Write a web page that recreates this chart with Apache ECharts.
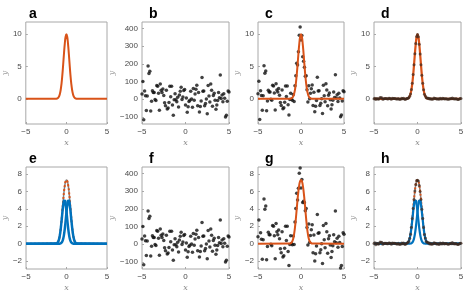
<!DOCTYPE html>
<html><head><meta charset="utf-8">
<script src="https://cdn.jsdelivr.net/npm/echarts@6/dist/echarts.min.js"></script>
<style>html,body{margin:0;padding:0;background:#fff}#c{width:469px;height:300px}</style>
</head><body><div id="c"></div>
<script>
// ---------- data ----------
const xs = [-5,-4.9,-4.8,-4.7,-4.6,-4.5,-4.4,-4.3,-4.2,-4.1,-4,-3.9,-3.8,-3.7,-3.6,-3.5,-3.4,-3.3,-3.2,-3.1,-3,-2.9,-2.8,-2.7,-2.6,-2.5,-2.4,-2.3,-2.2,-2.1,-2,-1.9,-1.8,-1.7,-1.6,-1.5,-1.4,-1.3,-1.2,-1.1,-1,-0.9,-0.8,-0.7,-0.6,-0.5,-0.4,-0.3,-0.2,-0.1,0,0.1,0.2,0.3,0.4,0.5,0.6,0.7,0.8,0.9,1,1.1,1.2,1.3,1.4,1.5,1.6,1.7,1.8,1.9,2,2.1,2.2,2.3,2.4,2.5,2.6,2.7,2.8,2.9,3,3.1,3.2,3.3,3.4,3.5,3.6,3.7,3.8,3.9,4,4.1,4.2,4.3,4.4,4.5,4.6,4.7,4.8,4.9,5];
// panel b / f : pure noise
const noiseY = [29,100,-117,46,19,-65,17,188,145,158,
 -67,-12,48,38,38,-2,-8,77,73,33,
 -63,85,50,38,58,21,-21,-38,50,-56,
 -50,-19,73,13,73,-33,-92,-4,31,-4,
 -15,10,-44,23,44,67,-2,12,49,55,
 -33,7,-74,-43,-14,-7,44,0,-46,60,
 -6,29,56,79,-38,37,-73,-42,-10,123,
 44,46,-38,-25,0,-83,77,17,-17,85,
 50,-40,21,33,-6,-58,-33,-8,38,8,
 137,4,23,-15,31,5,-102,-92,-12,46,40];
// panel c : noisy single peak
const cY = [0.79,2.73,-3.20,1.26,0.52,-1.78,0.46,5.14,3.96,4.32,
 -1.83,-0.33,1.31,1.04,1.04,-0.05,-0.22,2.10,1.99,0.90,
 -1.72,2.32,1.37,1.04,1.58,0.57,-0.57,-1.04,1.37,-1.53,
 -1.37,-0.52,1.99,0.36,1.99,-0.90,-2.51,-0.11,
 0.88,-0.03,-0.23,0.66,-0.43,2.04,3.57,5.51,5.22,7.31,9.86,11.11,
 9.10,9.80,6.50,5.81,4.89,3.49,3.57,1.41,-0.49,2.03,0.02,0.87,1.56,
 2.16,-1.04,1.01,-1.99,-1.15,-0.27,3.36,
 1.20,1.26,-1.04,-0.68,0,-2.27,2.10,0.46,-0.46,2.32,
 1.37,-1.09,0.57,0.90,-0.16,-1.58,-0.90,-0.22,1.04,0.22,
 3.74,0.11,0.63,-0.41,0.85,0.14,-2.79,-2.51,-0.33,1.26,1.09];
// panel d : denoised single peak
const dY = [0.03,0.10,-0.12,0.05,0.02,-0.07,0.02,0.19,0.15,0.16,
 -0.07,-0.01,0.05,0.04,0.04,0,-0.01,0.08,0.07,0.03,
 -0.06,0.09,0.05,0.04,0.06,0.02,-0.02,-0.04,0.05,-0.06,
 -0.05,-0.02,0.07,0.01,0.07,-0.03,-0.09,0,
 0.06,0.08,0.16,0.40,0.73,1.43,2.41,3.75,5.27,6.99,8.57,9.67,
 9.97,9.62,8.45,6.94,5.26,3.67,2.41,1.41,0.72,0.45,0.17,0.11,0.09,
 0.08,-0.04,0.04,-0.07,-0.04,-0.01,0.12,
 0.04,0.05,-0.04,-0.03,0,-0.08,0.08,0.02,-0.02,0.09,
 0.05,-0.04,0.02,0.03,-0.01,-0.06,-0.03,-0.01,0.04,0.01,
 0.14,0,0.02,-0.02,0.03,0.01,-0.10,-0.09,-0.01,0.05,0.04];
// panel g : noisy double peak
const gY = [0.79,2.73,-3.20,1.26,0.52,-1.78,0.46,5.14,3.96,4.32,
 -1.83,-0.33,1.31,1.04,1.04,-0.05,-0.22,2.10,1.99,0.90,
 -1.72,2.32,1.37,1.04,1.58,0.57,-0.57,-1.04,1.37,-1.53,
 -1.37,-0.52,1.99,0.36,1.99,-0.90,-2.51,
 -0.09,0.91,0.03,-0.11,0.88,-0.08,2.50,4.05,5.79,5.02,6.37,8.09,8.68,
 6.40,7.37,4.73,4.87,4.69,3.77,4.05,1.87,-0.14,2.25,0.14,0.93,1.59,2.18,
 -1.04,1.01,-1.99,-1.15,-0.27,3.36,
 1.20,1.26,-1.04,-0.68,0,-2.27,2.10,0.46,-0.46,2.32,
 1.37,-1.09,0.57,0.90,-0.16,-1.58,-0.90,-0.22,1.04,0.22,
 3.74,0.11,0.63,-0.41,0.85,0.14,-2.79,-2.51,-0.33,1.26,1.09];
// panel h : denoised double peak
const hY = [0.03,0.10,-0.12,0.05,0.02,-0.07,0.02,0.19,0.15,0.16,
 -0.07,-0.01,0.05,0.04,0.04,0,-0.01,0.08,0.07,0.03,
 -0.06,0.09,0.05,0.04,0.06,0.02,-0.02,-0.04,0.05,-0.06,
 -0.05,-0.02,0.07,0.01,0.07,-0.03,-0.09,
 0.02,0.09,0.14,0.28,0.62,1.08,1.89,2.89,4.03,5.07,6.05,6.80,7.24,
 7.27,7.19,6.68,6.00,5.06,3.95,2.89,1.87,1.07,0.67,0.29,0.17,0.12,0.10,
 -0.04,0.04,-0.07,-0.04,-0.01,0.12,
 0.04,0.05,-0.04,-0.03,0,-0.08,0.08,0.02,-0.02,0.09,
 0.05,-0.04,0.02,0.03,-0.01,-0.06,-0.03,-0.01,0.04,0.01,
 0.14,0,0.02,-0.02,0.03,0.01,-0.10,-0.09,-0.01,0.05,0.04];
// smooth curves
const curveX = [-5,-1.3,-1.2,-1.1,-1,-0.9,-0.8,-0.7,-0.6,-0.5,-0.4,-0.3,-0.2,-0.1,0,0.1,0.2,0.3,0.4,0.5,0.6,0.7,0.8,0.9,1,1.1,1.2,1.3,5];
const aY    = [0,0.01,0.03,0.08,0.18,0.39,0.77,1.41,2.37,3.68,5.27,6.98,8.52,9.61,10,9.61,8.52,6.98,5.27,3.68,2.37,1.41,0.77,0.39,0.18,0.08,0.03,0.01,0];
const sumY  = [0,0.02,0.06,0.14,0.30,0.61,1.12,1.87,2.85,3.96,5.07,6.04,6.75,7.18,7.30,7.18,6.75,6.04,5.07,3.96,2.85,1.87,1.12,0.61,0.30,0.14,0.06,0.02,0];
const blueL = [0,0.02,0.055,0.135,0.30,0.60,1.10,1.82,2.71,3.66,4.47,4.94,4.94,4.47,3.66,2.71,1.82,1.10,0.60,0.30,0.135,0.055,0.02,0.007,0.002,0,0,0,0];
const blueR = [0,0,0,0,0.002,0.007,0.02,0.055,0.135,0.30,0.60,1.10,1.82,2.71,3.66,4.47,4.94,4.94,4.47,3.66,2.71,1.82,1.10,0.60,0.30,0.135,0.055,0.02,0];
// ticks / labels
const panelLetters = ['a','b','c','d','e','f','g','h'];
const xTicks = [-5,0,5];
const yTicksTop = [0,5,10];
const yTicksNoise = [-100,0,100,200,300,400];
const yTicksBottom = [-2,0,2,4,6,8];

// ---------- layout ----------
const colLeft = [22,142,258,374];
const colWidth = [85,87,86,87];
const rowTop = [22,167];
const rowH = 102;
const ORANGE = '#D95319', BLUE = '#0072BD', GRAY = '#808080', TXT = '#4a4a4a', BOX = '#a8a8a8';
const FONT = 'Liberation Sans, Arial, sans-serif';

const yCfg = [
  {min:-3.9, max:11.9, ticks:yTicksTop, gap:14},
  {min:-141, max:437, ticks:yTicksNoise, gap:22},
  {min:-3.9, max:11.9, ticks:yTicksTop, gap:14},
  {min:-3.9, max:11.9, ticks:yTicksTop, gap:14},
  {min:-2.9, max:8.8, ticks:yTicksBottom, gap:14},
  {min:-141, max:437, ticks:yTicksNoise, gap:22},
  {min:-2.9, max:8.8, ticks:yTicksBottom, gap:14},
  {min:-2.9, max:8.8, ticks:yTicksBottom, gap:14}
];
const minus = v => String(v).replace('-', '\u2212');

const grids = [], xAxes = [], yAxes = [], titles = [];
for (let i = 0; i < 8; i++) {
  const r = Math.floor(i / 4), c = i % 4;
  grids.push({left: colLeft[c], top: rowTop[r], width: colWidth[c], height: rowH,
    show: true, borderColor: BOX, borderWidth: 1, backgroundColor: 'transparent', containLabel: false});
  xAxes.push({type: 'value', gridIndex: i, min: -5, max: 5, interval: 5, position: 'bottom',
    name: 'x', nameLocation: 'middle', nameGap: 15,
    nameTextStyle: {color: '#8a8a8a', fontSize: 8, fontStyle: 'italic', fontFamily: 'DejaVu Serif, serif'},
    axisLine: {show: false, onZero: false}, splitLine: {show: false},
    axisTick: {show: true, inside: true, length: 2, lineStyle: {color: BOX}},
    axisLabel: {color: TXT, fontSize: 8, margin: 4, fontFamily: FONT, formatter: minus}});
  const y = yCfg[i];
  yAxes.push({type: 'value', gridIndex: i, min: y.min, max: y.max, position: 'left',
    name: 'y', nameLocation: 'middle', nameGap: y.gap, nameRotate: 90,
    nameTextStyle: {color: '#8a8a8a', fontSize: 8, fontStyle: 'italic', fontFamily: 'DejaVu Serif, serif'},
    axisLine: {show: false, onZero: false}, splitLine: {show: false},
    axisTick: {show: true, inside: true, length: 2, lineStyle: {color: BOX}, customValues: y.ticks},
    axisLabel: {color: TXT, fontSize: 8, margin: 4, fontFamily: FONT, customValues: y.ticks, formatter: minus}});
  titles.push({text: panelLetters[i], left: colLeft[c] + 2, top: rowTop[r] - 20,
    textStyle: {fontSize: 14, fontWeight: 'bold', color: '#000', fontFamily: FONT}});
}

const pts = (X, Y) => X.map((x, k) => [x, Y[k]]);
const line = (gi, X, Y, color, width, type, z) => ({type: 'line', xAxisIndex: gi, yAxisIndex: gi,
  data: pts(X, Y), smooth: true, showSymbol: false, symbol: 'none', z: z || 2,
  lineStyle: {color: color, width: width, type: type || 'solid'}, clip: true});
const dots = (gi, Y, color, size, z) => ({type: 'scatter', xAxisIndex: gi, yAxisIndex: gi,
  data: pts(xs, Y), symbolSize: size, itemStyle: {color: color}, z: z || 3, clip: true});

const series = [
  line(0, curveX, aY, ORANGE, 2),
  dots(1, noiseY, '#111', 3.5),
  dots(2, cY, '#111', 3.5), line(2, curveX, aY, ORANGE, 2, 'solid', 4),
  line(3, curveX, aY, ORANGE, 2.2), dots(3, dY, 'rgba(60,40,30,0.85)', 3, 4),
  line(4, curveX, sumY, GRAY, 1.5, 'solid', 2), line(4, curveX, sumY, ORANGE, 2, [2, 2], 3),
  line(4, curveX, blueL, BLUE, 2.5, 'solid', 4), line(4, curveX, blueR, BLUE, 2.5, 'solid', 4),
  dots(5, noiseY, '#111', 3.5),
  dots(6, gY, '#111', 3.5), line(6, curveX, sumY, ORANGE, 2, 'solid', 4),
  line(7, curveX, sumY, GRAY, 1.5, 'solid', 2), line(7, curveX, sumY, ORANGE, 2, [2, 2], 3),
  line(7, curveX, blueL, BLUE, 2.2, 'solid', 3), line(7, curveX, blueR, BLUE, 2.2, 'solid', 3),
  dots(7, hY, 'rgba(60,40,30,0.85)', 3, 5)
];

const chart = echarts.init(document.getElementById('c'), null, {renderer: 'canvas'});
chart.setOption({animation: false, backgroundColor: '#fff', title: titles,
  grid: grids, xAxis: xAxes, yAxis: yAxes, series: series});
</script></body></html>
